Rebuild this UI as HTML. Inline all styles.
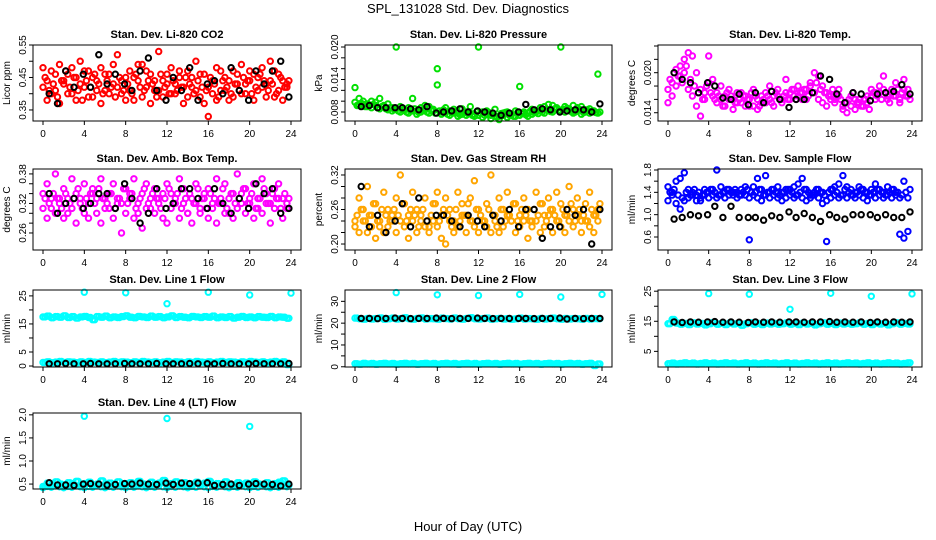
<!DOCTYPE html>
<html><head><meta charset="utf-8"><style>
html,body{margin:0;padding:0;background:#fff}
svg{display:block;font-family:"Liberation Sans",sans-serif}
</style></head><body>
<svg id="c" width="936" height="540" viewBox="0 0 936 540">
<text x="468" y="13" text-anchor="middle" font-size="13">SPL_131028  Std. Dev. Diagnostics</text>
<text x="468" y="531" text-anchor="middle" font-size="13">Hour of Day (UTC)</text>
</svg>
<script>
const colorHours=[0.0,0.4,0.8,1.2,1.6,2.0,2.4,2.8,3.2,3.6,4.0,4.4,4.8,5.2,5.6,6.0,6.4,6.8,7.2,7.6,8.0,8.4,8.8,9.2,9.6,10.0,10.4,10.8,11.2,11.6,12.0,12.4,12.8,13.2,13.6,14.0,14.4,14.8,15.2,15.6,16.0,16.4,16.8,17.2,17.6,18.0,18.4,18.8,19.2,19.6,20.0,20.4,20.8,21.2,21.6,22.0,22.4,22.8,23.2,23.6];
const colorHoursMid=[0.2,0.6,1.0,1.4,1.8,2.2,2.6,3.0,3.4,3.8,4.2,4.6,5.0,5.4,5.8,6.2,6.6,7.0,7.4,7.8,8.2,8.6,9.0,9.4,9.8,10.2,10.6,11.0,11.4,11.8,12.2,12.6,13.0,13.4,13.8,14.2,14.6,15.0,15.4,15.8,16.2,16.6,17.0,17.4,17.8,18.2,18.6,19.0,19.4,19.8,20.2,20.6,21.0,21.4,21.8,22.2,22.6,23.0,23.4,23.8];
const blackHours=[0.6,1.4,2.2,3.0,3.9,4.6,5.4,6.2,7.0,7.9,8.6,9.4,10.2,11.0,11.9,12.6,13.4,14.2,15.0,15.9,16.6,17.4,18.2,19.0,19.9,20.6,21.4,22.2,23.0,23.8];
const outlierHours=[4,8,12,16,20,24];
const xTicks=[0,4,8,12,16,20,24];

const co2A=[0.48,0.44,0.47,0.41,0.49,0.43,0.46,0.40,0.45,0.50,0.42,0.47,0.39,0.44,0.48,0.41,0.46,0.43,0.52,0.40,0.45,0.47,0.38,0.44,0.49,0.42,0.46,0.41,0.53,0.44,0.43,0.48,0.40,0.45,0.37,0.47,0.42,0.50,0.39,0.46,0.33,0.44,0.48,0.41,0.45,0.38,0.47,0.43,0.49,0.40,0.44,0.46,0.41,0.48,0.43,0.50,0.39,0.46,0.44,0.42];
const co2B=[0.42,0.38,0.40,0.46,0.37,0.44,0.40,0.48,0.38,0.43,0.47,0.39,0.45,0.41,0.37,0.46,0.40,0.49,0.42,0.44,0.38,0.41,0.45,0.49,0.39,0.47,0.37,0.44,0.41,0.39,0.46,0.40,0.43,0.47,0.42,0.39,0.45,0.41,0.46,0.37,0.42,0.40,0.38,0.47,0.41,0.44,0.39,0.46,0.40,0.43,0.47,0.38,0.45,0.42,0.39,0.44,0.47,0.41,0.38,0.43];
const co2C=[0.45,0.41,0.43,0.39,0.44,0.47,0.42,0.45,0.41,0.38,0.44,0.42,0.46,0.43,0.40,0.44,0.42,0.39,0.45,0.41,0.43,0.40,0.46,0.42,0.41,0.44,0.43,0.39,0.46,0.42,0.40,0.44,0.41,0.42,0.45,0.43,0.40,0.44,0.42,0.41,0.45,0.43,0.39,0.44,0.42,0.40,0.43,0.41,0.45,0.44,0.40,0.42,0.46,0.44,0.41,0.43,0.40,0.45,0.42,0.44];
const co2K=[0.40,0.37,0.47,0.42,0.46,0.42,0.52,0.43,0.46,0.43,0.41,0.47,0.51,0.41,0.38,0.45,0.41,0.48,0.38,0.43,0.44,0.40,0.48,0.41,0.38,0.47,0.43,0.47,0.50,0.39];

const presA=[0.0125,0.0105,0.0100,0.0095,0.0100,0.0098,0.0105,0.0092,0.0095,0.0088,0.0200,0.0090,0.0085,0.0088,0.0105,0.0082,0.0088,0.0092,0.0090,0.0085,0.0160,0.0080,0.0088,0.0082,0.0085,0.0078,0.0086,0.0080,0.0090,0.0076,0.0200,0.0080,0.0082,0.0074,0.0085,0.0072,0.0078,0.0080,0.0075,0.0082,0.0127,0.0080,0.0078,0.0085,0.0082,0.0088,0.0090,0.0094,0.0092,0.0088,0.0200,0.0090,0.0086,0.0092,0.0088,0.0090,0.0084,0.0086,0.0082,0.0150];
const presB=[0.0098,0.0092,0.0094,0.0090,0.0088,0.0092,0.0086,0.0090,0.0084,0.0082,0.0086,0.0080,0.0084,0.0078,0.0082,0.0076,0.0080,0.0084,0.0078,0.0082,0.0130,0.0076,0.0080,0.0074,0.0078,0.0072,0.0076,0.0074,0.0078,0.0072,0.0074,0.0070,0.0076,0.0068,0.0072,0.0066,0.0074,0.0070,0.0076,0.0072,0.0074,0.0078,0.0072,0.0076,0.0080,0.0082,0.0078,0.0084,0.0080,0.0086,0.0082,0.0080,0.0084,0.0078,0.0082,0.0076,0.0080,0.0078,0.0082,0.0078];
const presC=[0.0092,0.0096,0.0090,0.0093,0.0094,0.0088,0.0090,0.0086,0.0088,0.0085,0.0082,0.0084,0.0080,0.0082,0.0086,0.0079,0.0084,0.0080,0.0083,0.0078,0.0082,0.0084,0.0076,0.0079,0.0081,0.0075,0.0079,0.0077,0.0074,0.0080,0.0077,0.0074,0.0079,0.0076,0.0071,0.0077,0.0079,0.0074,0.0072,0.0079,0.0077,0.0075,0.0081,0.0079,0.0077,0.0080,0.0084,0.0081,0.0086,0.0083,0.0085,0.0087,0.0081,0.0080,0.0085,0.0079,0.0083,0.0081,0.0079,0.0080];
const presK=[0.0090,0.0092,0.0088,0.0088,0.0088,0.0088,0.0086,0.0084,0.0090,0.0078,0.0080,0.0082,0.0086,0.0080,0.0082,0.0080,0.0078,0.0074,0.0078,0.0080,0.0094,0.0084,0.0086,0.0084,0.0080,0.0082,0.0084,0.0084,0.0080,0.0095];

const tempA=[0.0155,0.0185,0.0205,0.0210,0.0220,0.0230,0.0225,0.0200,0.0175,0.0160,0.0225,0.0190,0.0170,0.0180,0.0165,0.0175,0.0160,0.0170,0.0155,0.0165,0.0150,0.0175,0.0160,0.0155,0.0170,0.0180,0.0165,0.0175,0.0160,0.0190,0.0170,0.0165,0.0180,0.0160,0.0175,0.0185,0.0200,0.0195,0.0180,0.0170,0.0165,0.0160,0.0175,0.0150,0.0140,0.0165,0.0160,0.0155,0.0150,0.0165,0.0175,0.0170,0.0180,0.0195,0.0165,0.0175,0.0185,0.0160,0.0190,0.0175];
const tempB=[0.0175,0.0165,0.0180,0.0195,0.0200,0.0175,0.0165,0.0150,0.0135,0.0170,0.0185,0.0165,0.0155,0.0160,0.0150,0.0160,0.0145,0.0155,0.0170,0.0150,0.0160,0.0150,0.0145,0.0165,0.0155,0.0160,0.0150,0.0165,0.0155,0.0170,0.0160,0.0175,0.0165,0.0170,0.0160,0.0180,0.0170,0.0160,0.0155,0.0150,0.0160,0.0155,0.0165,0.0145,0.0155,0.0150,0.0145,0.0160,0.0150,0.0155,0.0165,0.0160,0.0170,0.0175,0.0160,0.0170,0.0165,0.0155,0.0175,0.0165];
const tempC=[0.0190,0.0200,0.0195,0.0185,0.0210,0.0190,0.0180,0.0170,0.0160,0.0180,0.0170,0.0160,0.0165,0.0150,0.0170,0.0165,0.0155,0.0160,0.0165,0.0160,0.0170,0.0165,0.0150,0.0160,0.0165,0.0155,0.0170,0.0160,0.0165,0.0160,0.0175,0.0160,0.0170,0.0175,0.0165,0.0170,0.0185,0.0175,0.0170,0.0165,0.0175,0.0165,0.0160,0.0155,0.0160,0.0170,0.0155,0.0150,0.0160,0.0145,0.0170,0.0165,0.0160,0.0170,0.0155,0.0165,0.0175,0.0170,0.0165,0.0160];
const tempK=[0.0200,0.0190,0.0185,0.0170,0.0185,0.0180,0.0162,0.0160,0.0168,0.0152,0.0170,0.0155,0.0172,0.0160,0.0148,0.0160,0.0160,0.0170,0.0195,0.0190,0.0168,0.0155,0.0170,0.0168,0.0158,0.0168,0.0170,0.0172,0.0182,0.0168];

const ambA=[0.34,0.36,0.31,0.38,0.33,0.35,0.30,0.37,0.34,0.32,0.36,0.29,0.35,0.33,0.37,0.31,0.34,0.36,0.32,0.26,0.35,0.33,0.37,0.30,0.34,0.36,0.31,0.35,0.33,0.29,0.36,0.34,0.32,0.37,0.35,0.30,0.33,0.36,0.31,0.34,0.35,0.32,0.37,0.33,0.36,0.30,0.34,0.38,0.32,0.35,0.33,0.36,0.31,0.37,0.34,0.32,0.35,0.36,0.33,0.31];
const ambB=[0.31,0.29,0.33,0.30,0.32,0.29,0.33,0.31,0.28,0.33,0.30,0.32,0.34,0.30,0.28,0.33,0.31,0.29,0.33,0.32,0.30,0.34,0.29,0.32,0.27,0.31,0.33,0.30,0.32,0.34,0.28,0.31,0.33,0.29,0.32,0.30,0.28,0.32,0.30,0.33,0.29,0.31,0.28,0.32,0.30,0.33,0.29,0.31,0.34,0.30,0.32,0.29,0.33,0.30,0.32,0.28,0.31,0.33,0.29,0.32];
const ambC=[0.33,0.32,0.34,0.33,0.31,0.34,0.32,0.33,0.35,0.31,0.33,0.34,0.32,0.35,0.33,0.32,0.34,0.31,0.33,0.35,0.32,0.34,0.31,0.33,0.35,0.32,0.34,0.33,0.31,0.33,0.35,0.32,0.34,0.31,0.33,0.34,0.32,0.35,0.33,0.31,0.34,0.33,0.32,0.35,0.31,0.34,0.32,0.33,0.35,0.32,0.34,0.31,0.33,0.35,0.32,0.34,0.33,0.31,0.34,0.33];
const ambK=[0.34,0.30,0.32,0.33,0.31,0.32,0.34,0.34,0.31,0.36,0.33,0.28,0.30,0.35,0.31,0.32,0.35,0.35,0.33,0.31,0.35,0.32,0.30,0.33,0.31,0.36,0.34,0.35,0.30,0.31];

const rhA=[0.24,0.28,0.26,0.30,0.25,0.27,0.23,0.29,0.26,0.24,0.28,0.32,0.27,0.25,0.29,0.26,0.24,0.28,0.23,0.27,0.29,0.25,0.28,0.26,0.24,0.29,0.27,0.25,0.28,0.31,0.26,0.24,0.27,0.32,0.25,0.28,0.26,0.29,0.24,0.27,0.25,0.28,0.26,0.24,0.29,0.27,0.25,0.28,0.26,0.29,0.27,0.25,0.30,0.26,0.28,0.24,0.27,0.29,0.25,0.26];
const rhB=[0.23,0.22,0.24,0.22,0.23,0.21,0.24,0.22,0.23,0.25,0.22,0.24,0.23,0.21,0.24,0.22,0.25,0.23,0.22,0.24,0.23,0.21,0.20,0.24,0.22,0.23,0.25,0.22,0.24,0.23,0.22,0.24,0.23,0.22,0.24,0.22,0.23,0.25,0.24,0.22,0.23,0.24,0.21,0.23,0.24,0.22,0.23,0.25,0.22,0.24,0.23,0.22,0.24,0.23,0.25,0.22,0.24,0.23,0.22,0.24];
const rhC=[0.25,0.26,0.24,0.25,0.27,0.24,0.26,0.25,0.24,0.26,0.25,0.27,0.24,0.26,0.25,0.23,0.26,0.24,0.25,0.27,0.24,0.26,0.25,0.23,0.26,0.24,0.25,0.27,0.24,0.26,0.25,0.24,0.26,0.25,0.23,0.26,0.24,0.25,0.27,0.24,0.26,0.25,0.24,0.26,0.25,0.27,0.24,0.26,0.25,0.24,0.26,0.25,0.27,0.24,0.26,0.25,0.24,0.26,0.25,0.27];
const rhK=[0.30,0.23,0.25,0.22,0.24,0.27,0.23,0.28,0.24,0.25,0.25,0.24,0.23,0.25,0.24,0.23,0.25,0.24,0.26,0.23,0.26,0.26,0.21,0.23,0.23,0.26,0.25,0.26,0.20,0.26];

const flowA=[1.50,1.40,1.60,1.65,1.75,1.45,1.40,1.35,1.30,1.45,1.40,1.45,1.80,1.50,1.40,1.45,1.35,1.40,1.45,1.50,0.55,1.50,1.65,1.45,1.70,1.40,1.45,1.50,1.40,1.45,1.45,1.50,1.55,1.65,1.45,1.35,1.40,1.45,1.40,0.52,1.45,1.50,1.55,1.70,1.50,1.45,1.40,1.50,1.45,1.40,1.45,1.55,1.45,1.40,1.50,1.45,1.40,0.65,1.60,0.70];
const flowB=[1.25,1.35,1.20,1.10,1.25,1.30,1.35,1.25,1.25,1.35,1.30,1.35,1.30,1.35,1.30,1.35,1.40,1.30,1.35,1.35,1.30,1.35,1.30,1.25,1.35,1.30,1.35,1.30,1.25,1.30,1.35,1.30,1.35,1.30,1.25,1.30,1.35,1.30,1.20,1.25,1.30,1.35,1.30,1.35,1.30,1.35,1.30,1.35,1.30,1.25,1.35,1.30,1.35,1.30,1.35,1.30,1.35,1.30,0.58,1.30];
const flowC=[1.40,1.45,1.35,1.30,1.40,1.35,1.45,1.40,1.35,1.40,1.45,1.40,1.35,1.40,1.45,1.40,1.45,1.35,1.40,1.45,1.40,1.40,1.45,1.35,1.40,1.45,1.40,1.35,1.40,1.45,1.40,1.35,1.40,1.45,1.40,1.35,1.45,1.40,1.35,1.40,1.45,1.40,1.35,1.45,1.40,1.35,1.40,1.45,1.40,1.35,1.40,1.45,1.40,1.35,1.40,1.45,1.40,1.35,1.40,1.45];
const flowK=[0.92,0.95,1.00,0.98,1.00,1.15,0.95,1.15,0.95,0.95,0.95,0.90,0.98,0.95,1.05,0.95,1.02,0.95,0.88,1.00,0.95,0.92,1.00,1.00,1.00,0.95,1.00,0.95,0.95,1.05];

const line1High=[17.5,17.8,17.2,17.6,17.4,17.9,17.3,17.6,17.1,17.5,17.7,17.3,16.5,17.6,17.4,17.8,17.2,17.5,17.3,17.6,17.9,17.4,17.2,17.7,17.5,17.3,17.8,17.4,17.6,17.2,17.5,17.9,17.3,17.6,17.4,17.2,17.7,17.5,17.3,17.6,17.4,17.8,17.2,17.5,17.3,17.6,17.1,17.4,17.7,17.3,17.5,17.2,17.6,17.4,17.3,17.7,17.2,17.5,17.4,17.0];
const line1Low=[1.3,1.5,1.2,1.4,1.6,1.3,1.5,1.4,1.2,1.5,1.3,1.6,1.4,1.3,1.5,1.2,1.4,1.6,1.3,1.5,1.4,1.2,1.5,1.3,1.6,1.4,1.3,1.5,1.2,1.4,1.6,1.3,1.5,1.4,1.2,1.5,1.3,1.6,1.4,1.3,1.5,1.2,1.4,1.6,1.3,1.5,1.4,1.2,1.5,1.3,1.6,1.4,1.3,1.5,1.2,1.4,1.6,1.3,1.5,0.5];
const line1K=[0.8,0.8,0.9,0.8,0.8,0.9,0.8,0.8,0.8,0.9,0.8,0.8,0.8,0.9,0.8,0.8,0.8,0.9,0.8,0.8,0.8,0.9,0.8,0.8,0.8,0.9,0.8,0.8,0.8,0.9];
const line1Out=[26.3,26.1,22.2,26.3,25.3,26.0];

const line2High=[22.3,22.0,21.8,22.2,21.9,22.1,22.4,21.8,22.0,22.3,21.9,22.1,22.5,22.0,21.8,22.2,22.4,21.9,22.1,22.0,21.8,22.3,22.1,21.9,22.4,22.0,21.8,22.2,22.5,22.0,21.9,22.1,22.3,21.8,22.0,22.2,21.9,22.1,21.8,22.0,22.3,21.9,22.1,22.0,21.8,22.2,21.9,22.1,22.3,22.0,21.8,22.2,21.9,22.1,22.0,21.8,22.2,21.9,22.1,22.0];
const line2Low=[1.4,1.2,1.6,1.3,1.5,1.2,1.4,1.6,1.3,1.5,1.2,1.4,1.6,1.3,1.5,1.2,1.4,1.6,1.3,1.5,1.2,1.4,1.6,1.3,1.5,1.2,1.4,1.6,1.3,1.5,1.2,1.4,1.6,1.3,1.5,1.2,1.4,1.6,1.3,1.5,1.2,1.4,1.6,1.3,1.5,1.2,1.4,1.6,1.3,1.5,1.2,1.4,1.6,1.3,1.5,1.2,1.4,1.6,0.6,1.3];
const line2K=[22.2,22.2,22.1,22.2,22.3,22.2,22.1,22.2,22.2,22.3,22.2,22.1,22.2,22.2,22.3,22.2,22.1,22.2,22.2,22.2,22.2,22.1,22.2,22.2,22.3,21.9,22.2,22.1,22.2,22.2];
const line2Out=[34.0,33.0,32.7,33.2,32.0,33.2];

const line3High=[14.2,15.6,14.4,14.0,14.3,13.9,14.5,14.1,14.3,13.8,14.2,14.6,14.0,14.3,13.9,14.4,14.1,14.3,13.7,14.2,14.5,14.0,14.3,13.9,14.4,14.1,14.3,14.0,14.2,14.5,14.0,14.3,13.9,14.4,14.1,14.3,13.8,14.2,14.5,14.0,14.3,13.9,14.4,14.1,14.3,14.0,14.2,14.5,14.0,14.3,13.9,14.4,14.1,14.3,13.8,14.2,14.5,14.0,14.3,14.1];
const line3Low=[0.9,1.1,0.8,1.0,1.2,0.9,1.1,0.8,1.0,1.2,0.9,1.1,0.8,1.0,1.2,0.9,1.1,0.8,1.0,1.2,0.9,1.1,0.8,1.0,1.2,0.9,1.1,0.8,1.0,1.2,0.9,1.1,0.8,1.0,1.2,0.9,1.1,0.8,1.0,1.2,0.9,1.1,0.8,1.0,1.2,0.9,1.1,0.8,1.0,1.2,0.9,1.1,0.8,1.0,1.2,0.9,1.1,0.8,1.0,1.2];
const line3K=[14.8,14.6,14.8,14.7,14.8,14.9,14.7,14.8,14.7,14.6,14.8,14.7,14.8,14.7,14.8,14.8,14.7,14.8,14.8,14.9,14.7,14.8,14.7,14.8,14.6,14.8,14.7,14.8,14.7,14.8];
const line3Out=[24.2,24.0,19.0,24.3,23.3,24.1];

const line4High=[0.45,0.52,0.48,0.55,0.50,0.46,0.53,0.49,0.56,0.47,0.51,0.54,0.48,0.50,0.57,0.46,0.52,0.49,0.55,0.47,0.51,0.53,0.48,0.56,0.50,0.46,0.54,0.49,0.52,0.58,0.47,0.51,0.55,0.48,0.53,0.46,0.50,0.54,0.49,0.52,0.56,0.47,0.51,0.48,0.55,0.50,0.46,0.53,0.49,0.52,0.47,0.55,0.50,0.48,0.53,0.46,0.51,0.54,0.57,0.47];
const line4Low=[0.42,0.45,0.43,0.46,0.44,0.42,0.45,0.43,0.46,0.44,0.42,0.45,0.43,0.46,0.44,0.42,0.45,0.43,0.46,0.44,0.42,0.45,0.43,0.46,0.44,0.42,0.45,0.43,0.46,0.44,0.42,0.45,0.43,0.46,0.44,0.42,0.45,0.43,0.46,0.44,0.42,0.45,0.43,0.46,0.44,0.42,0.45,0.43,0.46,0.44,0.42,0.45,0.43,0.46,0.44,0.42,0.45,0.43,0.46,0.44];
const line4K=[0.53,0.48,0.48,0.47,0.50,0.51,0.50,0.48,0.49,0.51,0.50,0.52,0.50,0.49,0.52,0.49,0.52,0.51,0.52,0.53,0.47,0.49,0.50,0.47,0.50,0.51,0.50,0.49,0.46,0.50];
const line4OutHours=[4,12,20];
const line4Out=[1.97,1.92,1.75];

const panelTitles=["Stan. Dev. Li-820 CO2","Stan. Dev. Li-820 Pressure","Stan. Dev. Li-820 Temp.","Stan. Dev. Amb. Box Temp.","Stan. Dev. Gas Stream RH","Stan. Dev. Sample Flow","Stan. Dev. Line 1 Flow","Stan. Dev. Line 2 Flow","Stan. Dev. Line 3 Flow","Stan. Dev. Line 4 (LT) Flow"];
const yTitles=["Licor ppm","kPa","degrees C","degrees C","percent","ml/min","ml/min","ml/min","ml/min","ml/min"];
const yTicks=[[0.35,0.40,0.45,0.50,0.55],[0.008,0.010,0.012,0.014,0.016,0.018,0.020],[0.014,0.016,0.018,0.020,0.022,0.024],[0.26,0.28,0.30,0.32,0.34,0.36,0.38],[0.20,0.22,0.24,0.26,0.28,0.30,0.32],[0.6,0.8,1.0,1.2,1.4,1.6,1.8],[0,5,10,15,20,25],[0,5,10,15,20,25,30],[5,10,15,20,25],[0.5,1.0,1.5,2.0]];
const yLabels=[["0.35","0.45","0.55"],["0.008","0.014","0.020"],["0.014","0.020"],["0.26","0.32","0.38"],["0.20","0.26","0.32"],["0.6","1.0","1.4","1.8"],["0","5","15","25"],["0","10","20","30"],["5","15","25"],["0.5","1.0","1.5","2.0"]];

const colL=[33,345,658], colR=[301,612,922];
const rowT=[45,169,290,413], rowB=[121,250,367,489];
const yLim=[[0.316,0.55],[0.00634,0.02037],[0.01276,0.02415],[0.2254,0.39],[0.1896,0.3304],[0.367,1.818],[-0.35,27.1],[-0.1,35.2],[-0.2,25.4],[0.393,2.04]];

const panels=[
 {series:[[colorHours,co2A,"#ff0000"],[colorHours,co2B,"#ff0000"],[colorHoursMid,co2C,"#ff0000"],[blackHours,co2K,"#000"]]},
 {series:[[colorHours,presB,"#00e000"],[colorHoursMid,presC,"#00e000"],[colorHours,presA,"#00e000"],[blackHours,presK,"#000"]]},
 {series:[[colorHours,tempA,"#ff00ff"],[colorHours,tempB,"#ff00ff"],[colorHoursMid,tempC,"#ff00ff"],[blackHours,tempK,"#000"]]},
 {series:[[colorHours,ambA,"#ff00ff"],[colorHours,ambB,"#ff00ff"],[colorHoursMid,ambC,"#ff00ff"],[blackHours,ambK,"#000"]]},
 {series:[[colorHours,rhA,"#ffa500"],[colorHours,rhB,"#ffa500"],[colorHoursMid,rhC,"#ffa500"],[blackHours,rhK,"#000"]]},
 {series:[[colorHours,flowA,"#0000ff"],[colorHours,flowB,"#0000ff"],[colorHoursMid,flowC,"#0000ff"],[blackHours,flowK,"#000"]]},
 {series:[[colorHours,line1High,"#00ffff"],[colorHoursMid,line1High,"#00ffff"],[colorHours,line1Low,"#00ffff"],[colorHoursMid,line1Low,"#00ffff"],[outlierHours,line1Out,"#00ffff"],[blackHours,line1K,"#000"]]},
 {series:[[colorHours,line2High,"#00ffff"],[colorHoursMid,line2High,"#00ffff"],[colorHours,line2Low,"#00ffff"],[colorHoursMid,line2Low,"#00ffff"],[outlierHours,line2Out,"#00ffff"],[blackHours,line2K,"#000"]]},
 {series:[[colorHours,line3High,"#00ffff"],[colorHoursMid,line3High,"#00ffff"],[colorHours,line3Low,"#00ffff"],[colorHoursMid,line3Low,"#00ffff"],[outlierHours,line3Out,"#00ffff"],[blackHours,line3K,"#000"]]},
 {series:[[colorHours,line4High,"#00ffff"],[colorHoursMid,line4High,"#00ffff"],[colorHours,line4Low,"#00ffff"],[line4OutHours,line4Out,"#00ffff"],[blackHours,line4K,"#000"]]}
];

const NS="http://www.w3.org/2000/svg";
const svg=document.getElementById('c');
function mk(tag,attrs,parent){const e=document.createElementNS(NS,tag);for(const k in attrs)e.setAttribute(k,attrs[k]);(parent||svg).appendChild(e);return e;}

panels.forEach((p,i)=>{
  const c=i%3, r=Math.floor(i/3);
  const L=colL[c],R=colR[c],T=rowT[r],B=rowB[r];
  const xs=h=>L+10+(R-L-20)*h/24;
  const ys=v=>B-(v-yLim[i][0])/(yLim[i][1]-yLim[i][0])*(B-T);
  const g=mk('g',{});
  
  
  const t=mk('text',{x:(L+R)/2,y:T-7,'text-anchor':'middle','font-size':'11','font-weight':'bold'},g);
  t.textContent=panelTitles[i];
  
  
  const yt=mk('text',{x:0,y:0,'text-anchor':'middle','font-size':'10',transform:`translate(${L-23},${(T+B)/2}) rotate(-90)`},g);
  yt.textContent=yTitles[i];
  
  
  p.series.forEach(s=>{
    const [hs,vs,col]=s;
    const sg=mk('g',{fill:'none',stroke:col,'stroke-width':2},g);
    
    
    vs.forEach((v,k)=>{
      const pt=mk('circle',{cx:xs(hs[k]).toFixed(1),cy:ys(v).toFixed(1),r:2.7},sg);
      
      
    });
  });
  const box=mk('rect',{x:L,y:T,width:R-L,height:B-T,fill:'none',stroke:'#000','stroke-width':1},g);
  
  
  xTicks.forEach(h=>{
    const x=xs(h);
    const tk=mk('line',{x1:x,x2:x,y1:B,y2:B+4,stroke:'#000'},g);
    
    
    const lb=mk('text',{x:x,y:B+16,'text-anchor':'middle','font-size':'10'},g);
    lb.textContent=h;
    
    
  });
  yTicks[i].forEach(v=>{
    const y=ys(v);
    const tk=mk('line',{x1:L-4,x2:L,y1:y,y2:y,stroke:'#000'},g);
    
    
  });
  yLabels[i].forEach(s=>{
    const y=ys(parseFloat(s));
    const lb=mk('text',{x:0,y:0,'text-anchor':'middle','font-size':'10',transform:`translate(${L-7},${y}) rotate(-90)`},g);
    lb.textContent=s;
    
    
  });
});
</script>
</body></html>
